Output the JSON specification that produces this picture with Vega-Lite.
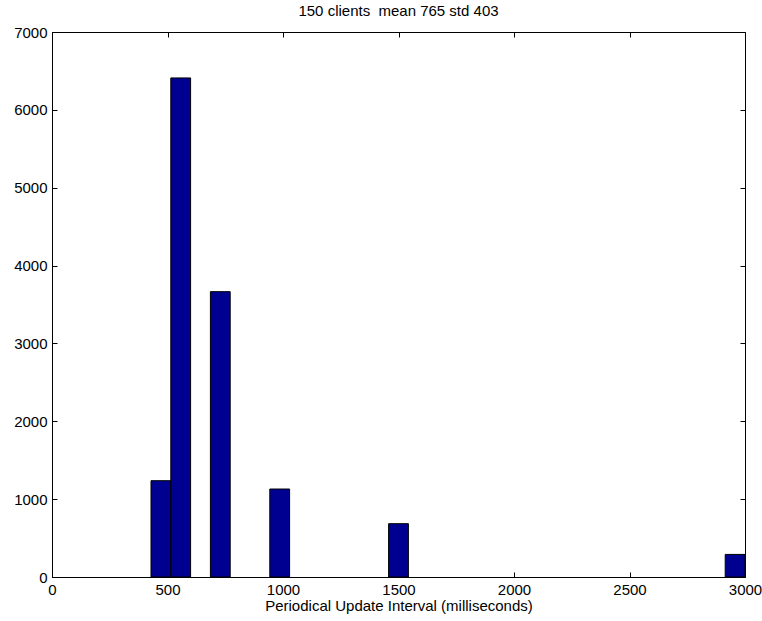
{
  "$schema": "https://vega.github.io/schema/vega-lite/v6.json",
  "width": 693,
  "height": 545,
  "autosize": {"type": "none"},
  "padding": {"left": 52, "top": 32, "right": 17, "bottom": 44},
  "background": "white",
  "config": {
    "font": "Liberation Sans",
    "view": {"stroke": "black", "strokeWidth": 1},
    "axis": {"labelFont": "Liberation Sans", "labelFontSize": 15, "labelColor": "black", "titleFont": "Liberation Sans", "titleFontSize": 15, "titleFontWeight": "normal", "titleColor": "black", "domainColor": "black", "tickColor": "black", "grid": false}
  },
  "title": {"text": "150 clients\u00a0 mean 765 std 403", "fontSize": 15, "fontWeight": "normal", "font": "Liberation Sans", "color": "black", "offset": 6},
  "data": {"values": [
    {"start": 428.571, "end": 514.286, "count": 1237},
    {"start": 514.286, "end": 600.0, "count": 6410},
    {"start": 685.714, "end": 771.429, "count": 3665},
    {"start": 942.857, "end": 1028.571, "count": 1130},
    {"start": 1457.143, "end": 1542.857, "count": 685},
    {"start": 2914.286, "end": 3000.0, "count": 290}
  ]},
  "layer": [
    {
      "mark": {"type": "bar", "color": "#000090", "stroke": "black", "strokeWidth": 1},
      "encoding": {
        "x": {"field": "start", "type": "quantitative", "scale": {"domain": [0, 3000], "nice": false, "zero": false},
          "axis": {"orient": "bottom", "values": [0, 500, 1000, 1500, 2000, 2500, 3000], "format": "d", "tickSize": -5, "labelPadding": 10, "title": "Periodical Update Interval (milliseconds)", "titlePadding": 1, "labelFlush": false, "labelOverlap": false}},
        "x2": {"field": "end"},
        "y": {"field": "count", "type": "quantitative", "scale": {"domain": [0, 7000], "nice": false},
          "axis": {"orient": "left", "values": [0, 1000, 2000, 3000, 4000, 5000, 6000, 7000], "format": "d", "tickSize": -5, "labelPadding": 10, "title": null, "labelFlush": false, "labelOverlap": false}},
        "y2": {"datum": 0}
      }
    },
    {
      "mark": {"type": "point", "opacity": 0},
      "encoding": {
        "x": {"field": "start", "type": "quantitative", "axis": {"orient": "top", "values": [0, 500, 1000, 1500, 2000, 2500, 3000], "tickSize": -5, "labels": false, "title": null, "domain": false}},
        "y": {"field": "count", "type": "quantitative", "axis": {"orient": "right", "values": [0, 1000, 2000, 3000, 4000, 5000, 6000, 7000], "tickSize": -5, "labels": false, "title": null, "domain": false}}
      }
    }
  ],
  "resolve": {"axis": {"x": "independent", "y": "independent"}}
}
